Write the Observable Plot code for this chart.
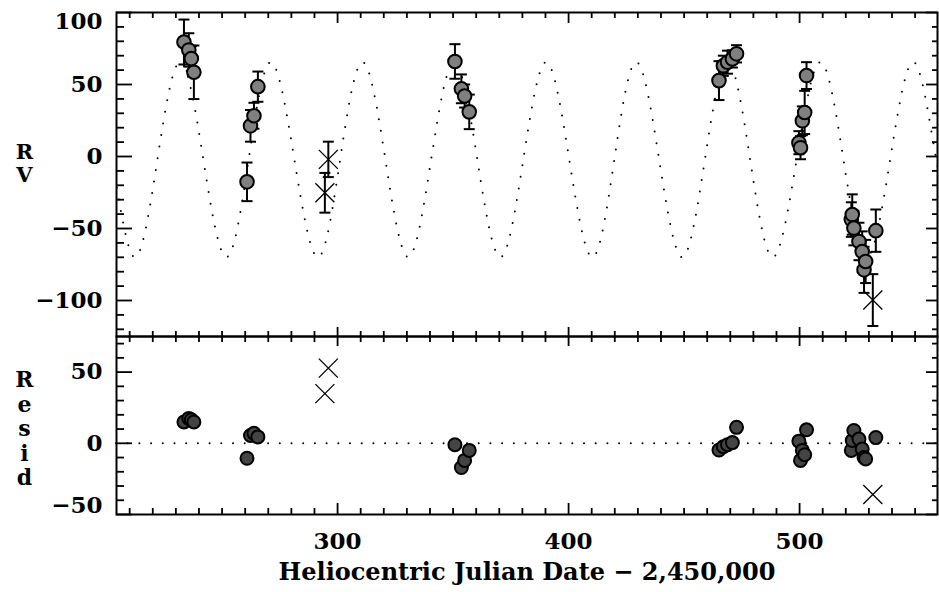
<!DOCTYPE html>
<html><head><meta charset="utf-8">
<script src="https://cdn.jsdelivr.net/npm/d3@7"></script>
<script src="https://cdn.jsdelivr.net/npm/@observablehq/plot@0.6"></script>
<style>
body{margin:0;background:#fff;}
#wrap{position:relative;width:939px;height:592px;background:#fff;}
#wrap svg{position:absolute;left:0;}
</style></head><body><div id="wrap"></div>
<script>
// Model curve vertices (peaks, troughs, crossings)
const fitX = [192.5,202.3,212.1,222.0,231.9,241.9,251.9,261.5,271.1,281.3,291.5,301.1,310.8,320.7,330.6,340.5,350.5,360.5,370.5,380.4,390.3,400.3,410.3,419.8,429.3,439.2,449.2,459.0,468.8,478.6,488.4,498.7,509.0,519.0,529.0,539.2,549.4,559.2,569.0];
const fitY = [65.5,-2.2,-69.9,-2.2,65.5,-2.2,-69.9,-2.2,65.5,-2.2,-69.9,-2.2,65.5,-2.2,-69.9,-2.2,65.5,-2.2,-69.9,-2.2,65.5,-2.2,-69.9,-2.2,65.5,-2.2,-69.9,-2.2,65.5,-2.2,-69.9,-2.2,65.5,-2.2,-69.9,-2.2,65.5,-2.2,-69.9];

// Observations (HJD - 2,450,000), RV, error, residual
const obsT     = [233.5,235.6,236.7,237.8,260.8,262.3,263.8,265.5,350.8,353.6,355.0,357.0,465.1,467.0,468.8,470.9,472.7,499.7,500.4,501.2,502.2,503.0,522.4,522.8,523.5,525.7,527.1,527.9,528.6,533.0];
const obsRV    = [79.5,74.0,68.0,58.5,-17.6,21.3,28.3,48.5,66.0,47.0,42.0,31.0,52.7,63.0,65.5,67.8,71.3,9.6,6.1,24.8,30.6,56.2,-43.8,-40.3,-49.7,-59.0,-66.0,-78.7,-72.9,-51.5];
const obsErr   = [15.6,11.6,8.6,18.6,13.4,11.0,9.0,10.5,12.0,10.0,8.0,12.0,13.5,7.0,8.0,6.0,6.0,8.0,8.0,10.0,15.0,9.3,12.0,14.0,12.0,13.0,14.0,16.0,15.0,14.7];
const obsResid = [15.0,17.5,16.5,15.0,-10.5,5.5,7.0,4.5,-1.0,-17.0,-12.0,-5.0,-4.7,-2.4,-1.0,0.5,11.2,1.5,-12.0,-5.0,-8.0,9.5,-5.0,2.0,9.0,3.0,-4.0,-10.0,-11.0,4.0];

// Rejected points (crosses)
const outT     = [294.5,296.0,531.7];
const outRV    = [-25.2,-2.0,-99.7];
const outErr   = [13.8,12.3,18.0];
const outResid = [34.9,52.8,-36.0];

// Ticks
const xMajor = [300,400,500];
const xMinor = [210,220,230,240,250,260,270,280,290,310,320,330,340,350,360,370,380,390,410,420,430,440,450,460,470,480,490,510,520,530,540,550];
const rvMajor = [100,50,0,-50,-100];
const rvMinor = [-120,-110,-90,-80,-70,-60,-40,-30,-20,-10,10,20,30,40,60,70,80,90];
const resMajor = [50,0,-50];
const resMinor = [-40,-30,-20,-10,10,20,30,40,60,70];

const xTitle = "Heliocentric Julian Date \u2212 2,450,000";
const rvLabel = "R\nV";
const resLabel = "R\ne\ns\ni\nd";

const fit = fitX.map((x, i) => ({x, y: fitY[i]}));
const obs = obsT.map((t, i) => ({t, rv: obsRV[i], err: obsErr[i], res: obsResid[i]}));
const out = outT.map((t, i) => ({t, rv: outRV[i], err: outErr[i], res: outResid[i]}));

const FONT = "DejaVu Serif";
const FS = 23;
const FW8 = "bold";
const W = 939, ML = 116, MR = 2;
const FW = W - ML - MR;
const xDomain = [204.3, 559.7];

const capSym = {draw(ctx, size) { const r = Math.sqrt(size / Math.PI); ctx.moveTo(-r, 0); ctx.lineTo(r, 0); }};
const xSym = {draw(ctx, size) { const r = Math.sqrt(size / Math.PI); ctx.moveTo(-r, -r); ctx.lineTo(r, r); ctx.moveTo(-r, r); ctx.lineTo(r, -r); }};
const dotted = {stroke: "black", strokeWidth: 2, strokeDasharray: "0,11.7", strokeLinecap: "round"};
const tickStyle = {stroke: "black", strokeWidth: 1.8};

function yTicks(vals, len, side) {
  return Plot.ruleY(vals, side === "left" ? {...tickStyle, insetRight: FW - len} : {...tickStyle, insetLeft: FW - len});
}
function xTicks(vals, len, side, fh) {
  return Plot.ruleX(vals, side === "top" ? {...tickStyle, insetBottom: fh - len} : {...tickStyle, insetTop: fh - len});
}
const axText = {anchor: "left", tickSize: 0, tickPadding: 14, fontSize: FS, fontWeight: FW8, fill: "black", label: null};

const topH = 345, topMT = 12, topMB = 9;
const topFH = topH - topMT - topMB;
const topPlot = Plot.plot({
  width: W, height: topH, marginLeft: ML, marginRight: MR, marginTop: topMT, marginBottom: topMB,
  style: {background: "transparent", overflow: "visible", fontFamily: FONT, color: "black"},
  x: {domain: xDomain, axis: null},
  y: {domain: [-125, 100]},
  marks: [
    Plot.line(fit, {x: "x", y: "y", curve: "natural", clip: true, ...dotted}),
    yTicks(rvMinor, 8, "left"), yTicks(rvMajor, 16, "left"),
    yTicks(rvMinor, 5, "right"), yTicks(rvMajor, 11, "right"),
    xTicks(xMinor, 6, "top", topFH), xTicks(xMajor, 11, "top", topFH),
    xTicks(xMinor, 5, "bottom", topFH), xTicks(xMajor, 9, "bottom", topFH),
    Plot.axisY(rvMajor.filter(v => v !== 100), axText),
    Plot.axisY([100], {...axText, dy: 9}),
    Plot.ruleX(obs, {x: "t", y1: d => d.rv - d.err, y2: d => d.rv + d.err, stroke: "black", strokeWidth: 2}),
    Plot.ruleX(out, {x: "t", y1: d => d.rv - d.err, y2: d => d.rv + d.err, stroke: "black", strokeWidth: 2}),
    Plot.dot(obs.concat(out), {x: "t", y: d => d.rv - d.err, symbol: capSym, r: 5.5, stroke: "black", strokeWidth: 2, fill: "none"}),
    Plot.dot(obs.concat(out), {x: "t", y: d => d.rv + d.err, symbol: capSym, r: 5.5, stroke: "black", strokeWidth: 2, fill: "none"}),
    Plot.dot(obs, {x: "t", y: "rv", r: 6.8, fill: "#808080", stroke: "black", strokeWidth: 2}),
    Plot.dot(out, {x: "t", y: "rv", symbol: xSym, r: 9.5, fill: "none", stroke: "black", strokeWidth: 1.3}),
    Plot.text([rvLabel], {frameAnchor: "left", dx: -92, dy: -11, text: d => d, fontSize: 21, fontWeight: FW8, lineHeight: 1.1, textAnchor: "middle", fill: "black"}),
    Plot.frame({stroke: "black", strokeWidth: 2})
  ]
});

const botTop = 326, botH = 266, botMT = 10, botMB = 78;
const botFH = botH - botMT - botMB;
const botPlot = Plot.plot({
  width: W, height: botH, marginLeft: ML, marginRight: MR, marginTop: botMT, marginBottom: botMB,
  style: {background: "transparent", overflow: "visible", fontFamily: FONT, color: "black"},
  x: {domain: xDomain},
  y: {domain: [-50, 75]},
  marks: [
    Plot.ruleY([0], dotted),
    yTicks(resMinor, 8, "left"), yTicks(resMajor, 16, "left"),
    yTicks(resMinor, 5, "right"), yTicks(resMajor, 11, "right"),
    xTicks(xMinor, 6, "top", botFH), xTicks(xMajor, 10, "top", botFH),
    xTicks(xMinor, 6, "bottom", botFH), xTicks(xMajor, 11, "bottom", botFH),
    Plot.axisY([50, 0], axText),
    Plot.axisY([-50], {...axText, dy: -9}),
    Plot.axisX(xMajor, {anchor: "bottom", tickSize: 0, tickPadding: 18, fontSize: FS, fontWeight: FW8, fill: "black", label: null}),
    Plot.dot(obs, {x: "t", y: "res", r: 6.5, fill: "#444444", stroke: "black", strokeWidth: 2}),
    Plot.dot(out, {x: "t", y: "res", symbol: xSym, r: 9.5, fill: "none", stroke: "black", strokeWidth: 1.3}),
    Plot.text([resLabel], {frameAnchor: "left", dx: -92, dy: 3, text: d => d, fontSize: 22, fontWeight: FW8, lineHeight: 1.11, textAnchor: "middle", fill: "black"}),
    Plot.text([xTitle], {frameAnchor: "bottom", dy: 65, text: d => d, fontSize: 24, fontWeight: FW8, fill: "black"}),
    Plot.frame({stroke: "black", strokeWidth: 2})
  ]
});

const wrap = document.getElementById("wrap");
topPlot.style.top = "0px";
botPlot.style.top = botTop + "px";
wrap.appendChild(topPlot);
wrap.appendChild(botPlot);
</script>
</body></html>
